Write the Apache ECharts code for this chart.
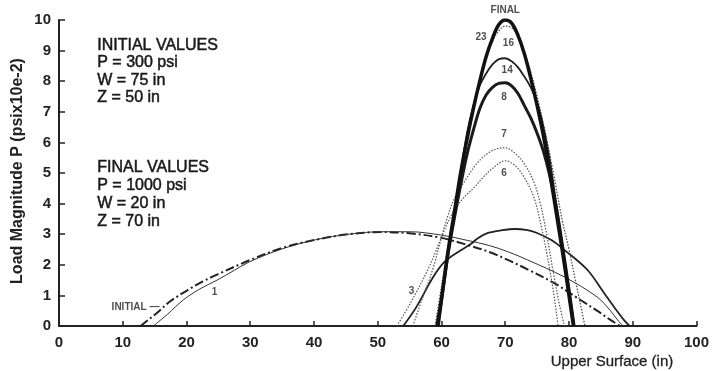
<!DOCTYPE html>
<html>
<head>
<meta charset="utf-8">
<script src="https://cdn.jsdelivr.net/npm/echarts@6/dist/echarts.min.js"></script>
<style>html,body{margin:0;padding:0;background:#fff}#c{width:712px;height:371px}</style>
</head>
<body>
<div id="c"></div>
<script>
// ---- data (x = Upper Surface in, y = Load Magnitude psi x10e-2) ----
var xTicks = [0,10,20,30,40,50,60,70,80,90,100];
var yTicks = [0,1,2,3,4,5,6,7,8,9,10];

var initialCurve = [[12.8,0],[14,0.2],[15.5,0.45],[17.4,0.8],[20,1.15],[22.5,1.45],[24.8,1.68],[29.9,2.15],[35,2.55],[40.3,2.82],[45.5,3.0],[50.6,3.07],[55,3.03],[60,2.88],[64,2.65],[67.5,2.42],[70.5,2.15],[73.5,1.85],[77.7,1.4],[81.8,0.85],[84.4,0.5],[86.5,0.2],[88,0]];
var curve1 = [[14.8,0],[17,0.38],[19.5,0.85],[22,1.2],[24.8,1.5],[27.5,1.82],[29.9,2.1],[35,2.52],[40.3,2.82],[45.5,3.0],[50.6,3.08],[55,3.08],[60,2.97],[64,2.8],[67.5,2.63],[70.5,2.42],[73.5,2.16],[79.3,1.6],[84.4,0.95],[86.5,0.5],[87.8,0.15],[88.5,0]];
var curve3 = [[54,0],[56,0.6],[58.7,1.6],[60.5,2.1],[62.6,2.42],[64.6,2.68],[65.7,2.87],[67.3,3.04],[69.5,3.13],[71.5,3.17],[73.5,3.13],[75,3.04],[77.3,2.8],[79.3,2.48],[82.9,1.83],[85.5,1.08],[87.5,0.5],[88.6,0.2],[89.5,0]];
var curve6 = [[53,0],[55,0.7],[58,1.9],[60,2.9],[61.5,3.6],[63.1,4.1],[65,4.5],[66.5,4.85],[68,5.15],[70,5.4],[71.5,5.25],[73,4.85],[74.5,4.2],[75.5,3.4],[76.5,2.4],[77.5,1.2],[78.3,0]];
var curve7 = [[55.5,0],[57,0.9],[58.7,1.9],[60,2.9],[61,3.6],[62.1,4.2],[64,4.85],[65.5,5.3],[67,5.6],[68.5,5.78],[70,5.82],[71.5,5.65],[73,5.3],[74.5,4.7],[75.5,4.0],[76.5,3.0],[77.5,1.8],[78.5,0.7],[79.3,0]];
var curve8 = [[59.5,0],[61,2.3],[62,3.5],[63,4.6],[64,5.6],[65,6.4],[66,7.1],[67,7.55],[68,7.8],[69,7.93],[70,7.95],[71,7.85],[72,7.6],[73,7.2],[74,6.8],[75,6.3],[76,5.7],[77,4.9],[78,3.9],[79,2.6],[80,1.2],[80.8,0]];
var curve14 = [[59.4,0],[61,2.4],[62,3.7],[63,5.0],[64,6.3],[65,7.2],[66,7.85],[67,8.25],[68,8.55],[69,8.72],[70,8.75],[71,8.65],[72,8.45],[73,8.15],[74,7.8],[75,7.3],[76,6.5],[77,5.4],[78,4.0],[79,2.6],[80,1.2],[80.8,0]];
var curve16 = [[59,0],[60,1.3],[61,2.6],[62,3.8],[63,5.0],[64,6.1],[65,7.1],[66,8.0],[67,8.75],[68,9.3],[69,9.65],[70,9.8],[71,9.75],[72,9.45],[73,8.95],[74,8.3],[75,7.5],[76,6.6],[77,5.6],[78,4.5],[79,3.4],[80,2.5],[81,1.5],[82,0.5],[82.5,0]];
var finalCurve = [[59.3,0],[60,0.9],[61,2.4],[62,3.7],[63,5.0],[64,6.1],[65,7.1],[66,8.0],[67,8.8],[68,9.4],[69,9.85],[70,10.0],[71,9.9],[72,9.5],[73,8.9],[74,8.1],[75,7.2],[76,6.2],[77,5.0],[78,3.7],[79,2.4],[80,1.0],[80.7,0]];

var curveLabels = [[70,10.33,'FINAL'],[66.2,9.44,'23'],[70.5,9.25,'16'],[70.3,8.37,'14'],[69.8,7.48,'8'],[69.8,6.27,'7'],[69.8,5.0,'6'],[55.3,1.14,'3'],[24.4,1.11,'1'],[12.0,0.62,'INITIAL —']];

var initialText = ['INITIAL VALUES','P = 300 psi','W = 75 in','Z = 50 in'];
var finalText = ['FINAL VALUES','P = 1000 psi','W = 20 in','Z = 70 in'];

var FONT = '"Liberation Sans", Arial, sans-serif';
var chart = echarts.init(document.getElementById('c'));

function line(data, width, type, color) {
  return {type:'line', data:data, smooth:0.35, showSymbol:false, symbol:'none', silent:true,
    lineStyle:{width:width, type:type, color:color}, z:3};
}

var graphics = [];
initialText.forEach(function(t,i){
  graphics.push({type:'text', left:97, top:37+i*17.6, style:{text:t, font:'16px '+FONT, fill:'#1a1a1a', stroke:'#1a1a1a', lineWidth:0.5}});
});
finalText.forEach(function(t,i){
  graphics.push({type:'text', left:97, top:159+i*18.2, style:{text:t, font:'16px '+FONT, fill:'#1a1a1a', stroke:'#1a1a1a', lineWidth:0.5}});
});
graphics.push({type:'text', x:18, y:171, rotation:Math.PI/2, style:{text:'Load Magnitude P (psix10e-2)', font:'bold 16px '+FONT, fill:'#222', textAlign:'center', textVerticalAlign:'middle'}});
graphics.push({type:'text', x:612, y:362, style:{text:'Upper Surface (in)', font:'15px '+FONT, fill:'#222', textAlign:'center', textVerticalAlign:'middle', stroke:'#222', lineWidth:0.3}});

chart.setOption({
  animation:false,
  backgroundColor:'#fff',
  grid:{left:59, right:13, top:20, bottom:45, containLabel:false},
  xAxis:{type:'value', min:0, max:100, interval:10,
    axisLine:{show:true, lineStyle:{color:'#222', width:2}},
    axisTick:{show:true, inside:true, length:5, lineStyle:{color:'#222', width:1.5}},
    axisLabel:{color:'#222', fontFamily:FONT, fontWeight:'bold', fontSize:15, margin:9,
      formatter:function(v){return xTicks.indexOf(v)>=0 ? String(v) : '';}},
    splitLine:{show:false}},
  yAxis:{type:'value', min:0, max:10, interval:1,
    axisLine:{show:true, lineStyle:{color:'#222', width:2}},
    axisTick:{show:true, inside:true, length:6, lineStyle:{color:'#222', width:1.5}},
    axisLabel:{color:'#222', fontFamily:FONT, fontWeight:'bold', fontSize:15, margin:8,
      formatter:function(v){return yTicks.indexOf(v)>=0 ? String(v) : '';}},
    splitLine:{show:false}},
  graphic:graphics,
  series:[
    line(initialCurve, 2, [9,3,2,3], '#222'),
    line(curve1, 1, 'solid', '#333'),
    line(curve3, 1.8, 'solid', '#222'),
    line(curve6, 1.2, [1.5,1.5], '#555'),
    line(curve7, 1.2, [1.5,1.5], '#555'),
    line(curve16, 1.2, [1.5,1.5], '#444'),
    line(curve14, 1.8, 'solid', '#222'),
    line(curve8, 3, 'solid', '#1a1a1a'),
    line(finalCurve, 3.5, 'solid', '#111'),
    {type:'scatter', data:curveLabels, symbolSize:0, clip:false, silent:true, z:5,
      label:{show:true, position:'inside', formatter:function(p){return p.data[2];},
        color:'#222', fontFamily:FONT, fontWeight:'bold', fontSize:10}}
  ]
});
</script>
</body>
</html>
